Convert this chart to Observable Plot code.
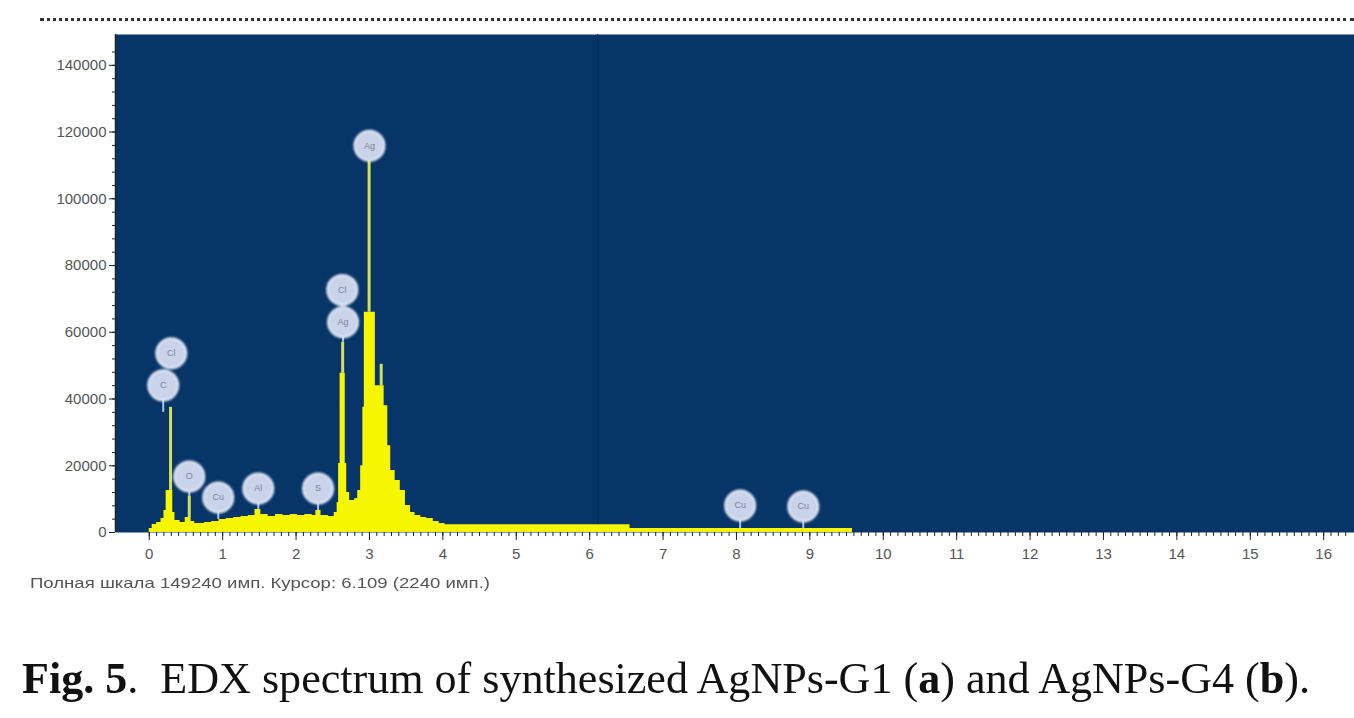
<!DOCTYPE html>
<html><head><meta charset="utf-8">
<script src="https://cdn.jsdelivr.net/npm/d3@7"></script>
<script src="https://cdn.jsdelivr.net/npm/@observablehq/plot@0.6"></script>
<style>
html,body{margin:0;padding:0;background:#fff;width:1354px;height:718px;overflow:hidden;position:relative;}
#dots{position:absolute;left:40px;right:0;top:18px;border-top:3px dotted #333;}
#chart{position:absolute;left:0;top:0;}
#scale{position:absolute;left:30px;top:574px;font:15px "Liberation Sans",Arial,sans-serif;color:#555;white-space:nowrap;transform-origin:0 0;}
#fig{position:absolute;left:22px;top:657px;font:44px "Liberation Serif","DejaVu Serif",serif;color:#111;white-space:nowrap;transform-origin:0 0;line-height:1;}
</style></head><body>
<div id="dots"></div>
<div id="chart"></div>
<div id="scale"></div>
<div id="fig"></div>
<script>
// Spectrum body (keV, counts), step curve
const bodyEnergy = [0.00,0.04,0.10,0.16,0.20,0.23,0.32,0.35,0.42,0.49,0.57,0.62,0.75,0.85,0.95,1.05,1.15,1.25,1.35,1.44,1.52,1.62,1.72,1.82,1.92,2.02,2.12,2.22,2.27,2.34,2.44,2.52,2.56,2.58,2.60,2.67,2.69,2.73,2.80,2.84,2.88,2.91,2.93,3.08,3.20,3.25,3.29,3.35,3.42,3.49,3.56,3.62,3.70,3.78,3.87,3.95,4.03,6.55,9.58];
const bodyCounts = [1200,2400,3000,4200,6600,12600,6000,3600,3000,4500,3300,2700,3000,3300,3900,4200,4500,4800,5100,6900,5400,4800,5400,5100,5400,5100,5400,5100,6600,5100,4800,6000,9000,20700,47700,20700,12000,9600,10200,12600,20000,37500,66000,44000,38000,26000,18600,15600,12600,8100,6000,5100,4500,4200,3300,2700,2300,1200,0];
// Narrow peak tips
const spikeEnergy = [0.29, 0.545, 2.635, 2.995, 3.16];
const spikeBase   = [12600, 4500, 47700, 66000, 44000];
const spikeTop    = [37500, 11000, 57000, 111700, 50400];
// Element markers
const markSymbol = ["C","Cl","O","Cu","Al","S","Cl","Ag","Ag","Cu","Cu"];
const markEnergy = [0.19, 0.30, 0.545, 0.94, 1.485, 2.30, 2.63, 2.64, 3.00, 8.05, 8.91];
const markCounts = [44100, 53700, 16800, 10500, 13200, 13200, 72700, 63000, 115900, 8100, 7800];
const markStem   = [36000, 53700, 11000, 3900, 6900, 6600, 72700, 57000, 111700, 1200, 1200];
// Axes
const xTicks = d3.range(0, 17);
const xMinor = d3.range(0, 164).map(i => i / 10);
const yTicks = [0, 20000, 40000, 60000, 80000, 100000, 120000, 140000];
const yMinor = d3.range(0, 37).map(i => i * 4000);
const xDomain = [-0.46, 16.42];
const fullScale = 149240;
const cursorKeV = 6.109;
const cursorCounts = 2240;
const scaleText = `Полная шкала ${fullScale} имп. Курсор: ${cursorKeV}  (${cursorCounts} имп.)`;
const figHTML = '<b>Fig. 5</b>.&nbsp; EDX spectrum of synthesized AgNPs-G1 (<b>a</b>) and AgNPs-G4 (<b>b</b>).';

const body = bodyEnergy.map((e, i) => ({e, c: bodyCounts[i]}));
const spikes = spikeEnergy.map((e, i) => ({e, b: spikeBase[i], t: spikeTop[i]}));
const marks = markSymbol.map((s, i) => ({s, e: markEnergy[i], c: markCounts[i], st: markStem[i]}));

const plot = Plot.plot({
  width: 1354, height: 575,
  marginLeft: 115, marginRight: 0, marginTop: 34, marginBottom: 43,
  x: {domain: xDomain, label: null},
  y: {domain: [0, fullScale], label: null},
  style: {fontFamily: '"Liberation Sans", Arial, sans-serif', fontSize: "15px", background: "transparent", color: "#555", overflow: "visible"},
  marks: [
    Plot.frame({fill: "#083568"}),
    Plot.ruleX([cursorKeV], {stroke: "#032a56", strokeWidth: 1.3}),
    Plot.areaY(body, {x: "e", y: "c", curve: "step-after", fill: "#f6f600"}),
    Plot.ruleX(spikes, {x: "e", y1: "b", y2: "t", stroke: "#d4e05a", strokeWidth: 3}),
    Plot.ruleX(marks, {x: "e", y1: "st", y2: "c", stroke: "#a9c3e6", strokeWidth: 2}),
    Plot.dot(marks, {x: "e", y: "c", r: 15, fill: "#c9d3ea", stroke: "#e6ecf7", strokeWidth: 2}),
    Plot.text(marks, {x: "e", y: "c", text: "s", fontSize: 9, fill: "#7d8499"}),
    Plot.ruleX([xDomain[0]], {stroke: "#222", strokeWidth: 1.5}),
    Plot.axisX({ticks: xTicks, tickSize: 8, tickPadding: 8, stroke: "#222", fill: "#555", label: null, tickFormat: d => String(d)}),
    Plot.axisX({ticks: xMinor, tickSize: 4, stroke: "#222", label: null, tickFormat: () => ""}),
    Plot.axisY({ticks: yTicks, tickSize: 6, tickPadding: 3, stroke: "#222", fill: "#555", label: null, tickFormat: d => String(d)}),
    Plot.axisY({ticks: yMinor, tickSize: 3, stroke: "#222", label: null, tickFormat: () => ""})
  ]
});
document.getElementById("chart").appendChild(plot);

// soften the marker bubbles
const svg = d3.select(plot);
const defs = svg.insert("defs", ":first-child");
defs.append("filter").attr("id", "soft").attr("x", "-50%").attr("y", "-50%").attr("width", "200%").attr("height", "200%")
  .append("feGaussianBlur").attr("stdDeviation", 0.9);
svg.selectAll('g[aria-label="dot"]').attr("filter", "url(#soft)");

const sc = document.getElementById("scale");
sc.textContent = scaleText;
sc.style.transform = `scaleX(${460 / sc.getBoundingClientRect().width})`;
const fg = document.getElementById("fig");
fg.innerHTML = figHTML;
fg.style.transform = `scaleX(${1288 / fg.getBoundingClientRect().width})`;
</script>
</body></html>
